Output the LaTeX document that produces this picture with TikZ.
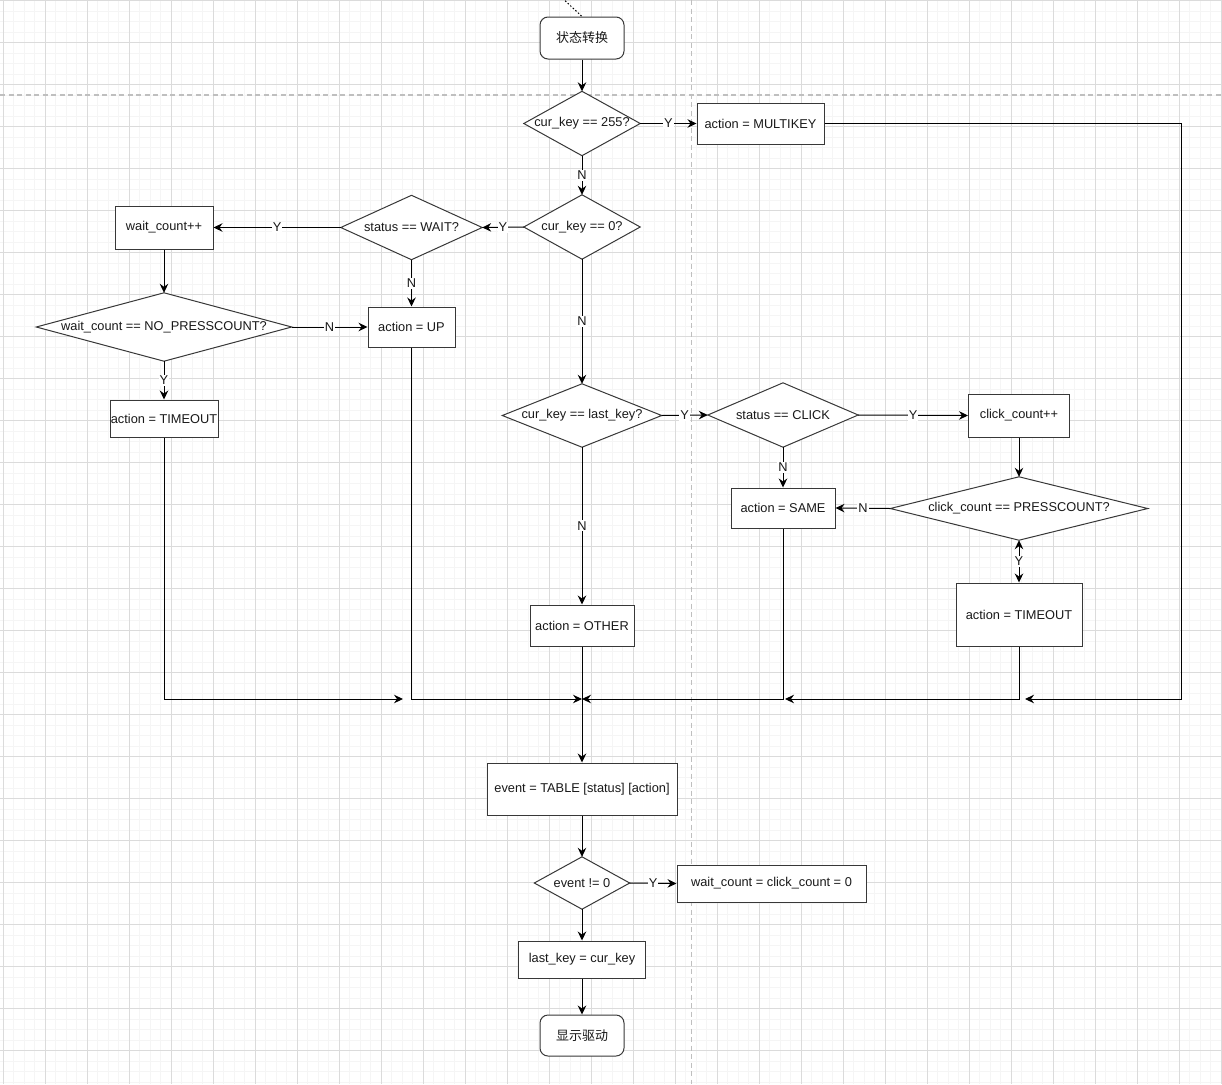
\documentclass[tikz,border=0pt]{standalone}
\usepackage{fontspec}
\setmainfont{Liberation Sans}
\newfontfamily\cjk{Noto Sans CJK SC}
\usetikzlibrary{arrows.meta}
\pgfdeclarelayer{bg}
\pgfdeclarelayer{shp}
\pgfsetlayers{bg,shp,main}
\begin{document}
\begin{tikzpicture}[x=1pt,y=-1pt,
  >={Stealth[length=9pt,width=8.5pt,inset=3pt]},
  every node/.style={font=\fontsize{12.8}{15}\selectfont, text=black!90},
  gmin/.style={draw=black!4, line width=0.7pt},
  gmaj/.style={draw=black!14, line width=1pt},
  guide/.style={draw=black!25, line width=1.3pt, dash pattern=on 5pt off 3.5pt},
  boxline/.style={draw=black!78, line width=1pt},
  procbox/.style={boxline, fill=white, rectangle, inner sep=0pt},
  termbox/.style={boxline, fill=white, rectangle, rounded corners=8pt, inner sep=0pt, font=\cjk\fontsize{13}{15}\selectfont},
  decbox/.style={rectangle, inner sep=0pt},
  conn/.style={draw=black, line width=1pt, ->},
  lbl/.style={fill=white, inner sep=1pt, midway}
]
\useasboundingbox (0,0) rectangle (1222,1084);
\begin{pgfonlayer}{bg}
  \fill[white] (0,0) rectangle (1222,1084);
  \foreach \i in {0,...,116} \draw[gmin] ({3.3+10.5*\i},0) -- ({3.3+10.5*\i},1084);
  \foreach \i in {0,...,103} \draw[gmin] (0,{0.5+10.5*\i}) -- (1222,{0.5+10.5*\i});
  \foreach \i in {0,...,29} \draw[gmaj] ({3.3+42*\i},0) -- ({3.3+42*\i},1084);
  \foreach \i in {0,...,25} \draw[gmaj] (0,{0.5+42*\i}) -- (1222,{0.5+42*\i});
  \draw[guide] (691.5,0) -- (691.5,1084);
  \draw[guide] (0,95) -- (1222,95);
\end{pgfonlayer}

% terminals and process boxes
\node[termbox, minimum width=84pt, minimum height=42pt] (s1) at (582,38) {状态转换};
\node[decbox, minimum width=116pt, minimum height=64pt] (d1) at (582,123.5) {cur\_key == 255?};
\node[procbox, minimum width=127pt, minimum height=41pt] (mk) at (760.5,123.5) {action = MULTIKEY};
\node[decbox, minimum width=116pt, minimum height=64pt] (d2) at (582,227) {cur\_key == 0?};
\node[decbox, minimum width=141pt, minimum height=64pt] (d3) at (411.5,227.5) {status == WAIT?};
\node[procbox, minimum width=98pt, minimum height=43pt] (wc) at (164,227.5) {wait\_count++};
\node[decbox, minimum width=255pt, minimum height=68pt] (d4) at (164,327) {wait\_count == NO\_PRESSCOUNT?};
\node[procbox, minimum width=87pt, minimum height=40pt] (up) at (411.5,327) {action = UP};
\node[procbox, minimum width=108pt, minimum height=37pt] (lt) at (164,418.5) {action = TIMEOUT};
\node[decbox, minimum width=159pt, minimum height=63pt] (d5) at (582,415.5) {cur\_key == last\_key?};
\node[decbox, minimum width=150pt, minimum height=64pt] (d6) at (783,415) {status == CLICK};
\node[procbox, minimum width=101pt, minimum height=43pt] (cc) at (1019,415.5) {click\_count++};
\node[decbox, minimum width=257pt, minimum height=63pt] (d7) at (1019,508.5) {click\_count == PRESSCOUNT?};
\node[procbox, minimum width=104pt, minimum height=40pt] (same) at (783,508) {action = SAME};
\node[procbox, minimum width=126pt, minimum height=63pt] (rt) at (1019,614.5) {action = TIMEOUT};
\node[procbox, minimum width=104pt, minimum height=41pt] (oth) at (582,625.5) {action = OTHER};
\node[procbox, minimum width=190pt, minimum height=52pt] (ev) at (582,789) {event = TABLE [status] [action]};
\node[decbox, minimum width=95pt, minimum height=52pt] (d8) at (582,883) {event != 0};
\node[procbox, minimum width=189pt, minimum height=37pt] (wz) at (771.5,883.5) {wait\_count = click\_count = 0};
\node[procbox, minimum width=127pt, minimum height=37pt] (lk) at (582,959.5) {last\_key = cur\_key};
\node[termbox, minimum width=84pt, minimum height=41pt] (s2) at (582,1035.5) {显示驱动};

\begin{pgfonlayer}{shp}
  \foreach \n in {d1,d2,d3,d4,d5,d6,d7,d8}
    \draw[boxline, fill=white] (\n.north) -- (\n.east) -- (\n.south) -- (\n.west) -- cycle;
\end{pgfonlayer}

% helper coordinates
\coordinate (top) at (560,-4);
\coordinate (m1) at (403,699);
\coordinate (mc) at (582,699);
\coordinate (m2) at (785,699);
\coordinate (m3) at (1025,699);
\coordinate (c1) at (1181,699);

% connectors
\draw[line width=1pt, dash pattern=on 1.5pt off 2pt] (top) -- (s1.north);
\draw[conn] (s1) -- (d1);
\draw[conn] (d1.east) -- node[lbl]{Y} (mk.west);
\draw[conn] (d1.south) -- node[lbl]{N} (d2.north);
\draw[conn] (d2.west) -- node[lbl]{Y} (d3.east);
\draw[conn] (d3.west) -- node[lbl]{Y} (wc.east);
\draw[conn] (d3.south) -- node[lbl]{N} (up.north);
\draw[conn] (wc.south) -- (d4.north);
\draw[conn] (d4.east) -- node[lbl]{N} (up.west);
\draw[conn] (d4.south) -- node[lbl]{Y} (lt.north);
\draw[conn] (d2.south) -- node[lbl]{N} (d5.north);
\draw[conn] (d5.east) -- node[lbl]{Y} (d6.west);
\draw[conn] (d6.east) -- node[lbl]{Y} (cc.west);
\draw[conn] (d6.south) -- node[lbl]{N} (same.north);
\draw[conn] (cc.south) -- (d7.north);
\draw[conn] (d7.west) -- node[lbl]{N} (same.east);
\draw[conn, <->] (d7.south) -- node[lbl]{Y} (rt.north);
\draw[conn] (d5.south) -- node[lbl]{N} (oth.north);
\draw[conn] (lt.south) |- (m1);
\draw[conn] (up.south) |- (mc);
\draw[conn] (same.south) |- (mc);
\draw[conn] (rt.south) |- (m2);
\draw[conn] (mk.east) -| (c1) -- (m3);
\draw[conn] (oth.south) -- (ev.north);
\draw[conn] (ev.south) -- (d8.north);
\draw[conn] (d8.east) -- node[lbl]{Y} (wz.west);
\draw[conn] (d8.south) -- (lk.north);
\draw[conn] (lk.south) -- (s2.north);
\end{tikzpicture}
\end{document}
